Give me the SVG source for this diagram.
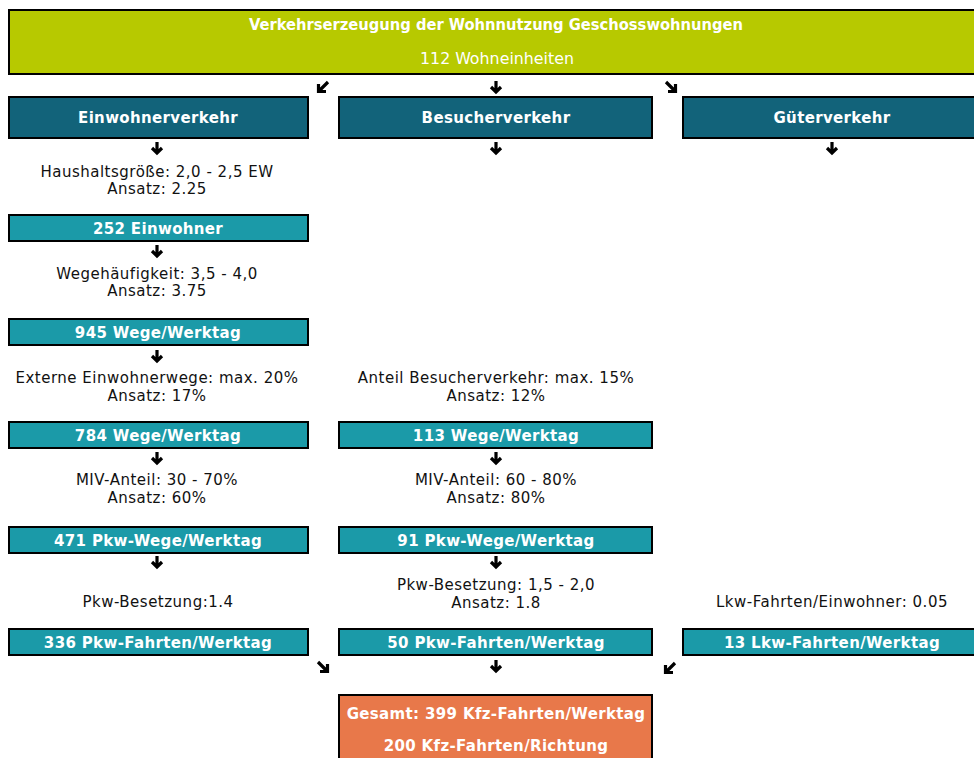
<svg xmlns="http://www.w3.org/2000/svg" width="974" height="758" viewBox="0 0 974 758">
<style>
.box{stroke:#000;stroke-width:2}
.lime{fill:#b7c900}
.dark{fill:#12637a}
.teal{fill:#1b9aa8}
.orange{fill:#e8784a}
.bt{font-family:"DejaVu Sans",Verdana,sans-serif;font-weight:bold;font-size:15px;fill:#fff;text-anchor:middle;letter-spacing:0.35px}
.rt{font-family:"DejaVu Sans",Verdana,sans-serif;font-size:15px;fill:#111;text-anchor:middle;letter-spacing:0.5px}
.tt{font-family:"DejaVu Sans Condensed","DejaVu Sans",sans-serif;font-size:15px;fill:#fff;text-anchor:middle}
.arr{fill:none;stroke:#000;stroke-width:3.2;stroke-linecap:butt;stroke-linejoin:miter}
</style>
<rect width="974" height="758" fill="#fff"/>
<g id="top">
<rect class="box lime" x="9" y="10" width="980" height="64"/>
<text class="tt" x="496" y="30" font-weight="bold" textLength="494" lengthAdjust="spacingAndGlyphs">Verkehrserzeugung der Wohnnutzung Geschosswohnungen</text>
<text class="tt" x="497" y="64" textLength="154" lengthAdjust="spacingAndGlyphs">112 Wohneinheiten</text>
</g>
<g id="einwohnerverkehr"><rect class="box dark" x="9" y="97" width="299" height="41"/><text class="bt" x="158" y="123">Einwohnerverkehr</text></g>
<g id="besucherverkehr"><rect class="box dark" x="339" y="97" width="313" height="41"/><text class="bt" x="496" y="123">Besucherverkehr</text></g>
<g id="gueterverkehr"><rect class="box dark" x="683" y="97" width="300" height="41"/><text class="bt" x="832" y="123">Güterverkehr</text></g>
<g id="t1"><text class="rt" x="157" y="177">Haushaltsgröße: 2,0 - 2,5 EW</text><text class="rt" x="157" y="194">Ansatz: 2.25</text></g>
<g id="einwohner"><rect class="box teal" x="9" y="215" width="299" height="26"/><text class="bt" x="158" y="234">252 Einwohner</text></g>
<g id="t2"><text class="rt" x="157" y="279">Wegehäufigkeit: 3,5 - 4,0</text><text class="rt" x="157" y="296">Ansatz: 3.75</text></g>
<g id="wege945"><rect class="box teal" x="9" y="319" width="299" height="26"/><text class="bt" x="158" y="338">945 Wege/Werktag</text></g>
<g id="t3"><text class="rt" x="157" y="383">Externe Einwohnerwege: max. 20%</text><text class="rt" x="157" y="401">Ansatz: 17%</text></g>
<g id="t3b"><text class="rt" x="496" y="383">Anteil Besucherverkehr: max. 15%</text><text class="rt" x="496" y="401">Ansatz: 12%</text></g>
<g id="wege784"><rect class="box teal" x="9" y="422" width="299" height="26"/><text class="bt" x="158" y="441">784 Wege/Werktag</text></g>
<g id="wege113"><rect class="box teal" x="339" y="422" width="313" height="26"/><text class="bt" x="496" y="441">113 Wege/Werktag</text></g>
<g id="t4"><text class="rt" x="157" y="485">MIV-Anteil: 30 - 70%</text><text class="rt" x="157" y="503">Ansatz: 60%</text></g>
<g id="t4b"><text class="rt" x="496" y="485">MIV-Anteil: 60 - 80%</text><text class="rt" x="496" y="503">Ansatz: 80%</text></g>
<g id="pkwwege471"><rect class="box teal" x="9" y="527" width="299" height="26"/><text class="bt" x="158" y="546">471 Pkw-Wege/Werktag</text></g>
<g id="pkwwege91"><rect class="box teal" x="339" y="527" width="313" height="26"/><text class="bt" x="496" y="546">91 Pkw-Wege/Werktag</text></g>
<g id="t5"><text class="rt" x="158" y="607">Pkw-Besetzung:1.4</text></g>
<g id="t5b"><text class="rt" x="496" y="590">Pkw-Besetzung: 1,5 - 2,0</text><text class="rt" x="496" y="608">Ansatz: 1.8</text></g>
<g id="t5c"><text class="rt" x="832" y="607">Lkw-Fahrten/Einwohner: 0.05</text></g>
<g id="pkwfahrten336"><rect class="box teal" x="9" y="629" width="299" height="26"/><text class="bt" x="158" y="648">336 Pkw-Fahrten/Werktag</text></g>
<g id="pkwfahrten50"><rect class="box teal" x="339" y="629" width="313" height="26"/><text class="bt" x="496" y="648">50 Pkw-Fahrten/Werktag</text></g>
<g id="lkwfahrten13"><rect class="box teal" x="683" y="629" width="300" height="26"/><text class="bt" x="832" y="648">13 Lkw-Fahrten/Werktag</text></g>
<g id="gesamt"><rect class="box orange" x="339" y="695" width="313" height="70"/><text class="bt" x="496" y="719">Gesamt: 399 Kfz-Fahrten/Werktag</text><text class="bt" x="496" y="751">200 Kfz-Fahrten/Richtung</text></g>
<g id="connectors">
<path class="arr" d="M328,82 L319,91 M318.5,84 V91.5 H326"/>
<path class="arr" d="M496,81 V92 M491,87 L496,92 L501,87"/>
<path class="arr" d="M666,82 L675,91 M675.5,84 V91.5 H668"/>
<path class="arr" d="M157,142 V153 M152,148 L157,153 L162,148"/>
<path class="arr" d="M496,142 V153 M491,148 L496,153 L501,148"/>
<path class="arr" d="M832,142 V153 M827,148 L832,153 L837,148"/>
<path class="arr" d="M157,245 V256 M152,251 L157,256 L162,251"/>
<path class="arr" d="M157,350 V361 M152,356 L157,361 L162,356"/>
<path class="arr" d="M157,452 V463 M152,458 L157,463 L162,458"/>
<path class="arr" d="M496,452 V463 M491,458 L496,463 L501,458"/>
<path class="arr" d="M157,556 V567 M152,562 L157,567 L162,562"/>
<path class="arr" d="M496,556 V567 M491,562 L496,567 L501,562"/>
<path class="arr" d="M318,662 L327,671 M327.5,664 V671.5 H320"/>
<path class="arr" d="M496,660 V671 M491,666 L496,671 L501,666"/>
<path class="arr" d="M675,663 L666,672 M665.5,665 V672.5 H673"/>
</g>
</svg>
